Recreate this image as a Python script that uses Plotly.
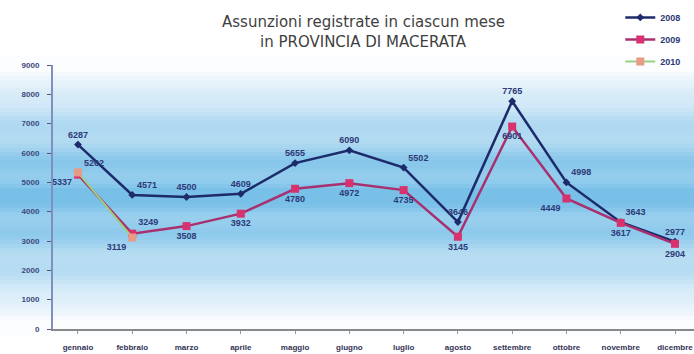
import plotly.graph_objects as go
import math

months = ["gennaio", "febbraio", "marzo", "aprile", "maggio", "giugno",
          "luglio", "agosto", "settembre", "ottobre", "novembre", "dicembre"]
s2008 = [6287, 4571, 4500, 4609, 5655, 6090, 5502, 3646, 7765, 4998, 3643, 2977]
s2009 = [5262, 3249, 3508, 3932, 4780, 4972, 4735, 3145, 6901, 4449, 3617, 2904]
s2010 = [5337, 3119]
yticks = [0, 1000, 2000, 3000, 4000, 5000, 6000, 7000, 8000, 9000]
title_lines = ["Assunzioni registrate in ciascun mese", "in PROVINCIA DI MACERATA"]

pos2008 = ["top center", "top right", "top center", "top center", "top center", "top center",
           "top right", "top center", "top center", "top right", "top right", "top center"]
pos2009 = ["top right", "top right", "bottom center", "bottom center", "bottom center", "bottom center",
           "bottom center", "bottom center", "bottom center", "bottom left", "bottom center", "bottom center"]
pos2010 = ["bottom left", "bottom left"]

navy = "#1d2b6b"
pink = "#d8326e"
pinkline = "#a8306e"
green = "#9ccf82"
labelc = "#2c3a78"
FONT = "Liberation Sans"

fig = go.Figure()

def py2paper(py):
    return (329 - py) / 264.0

def band_color(py):
    c = max(0.0, 1 - abs(py - 195) / 125.0)
    c = c ** 0.8
    w = (252, 253, 255)
    b = (120, 192, 232)
    streak = 0.12 * math.sin(py / 6.0) if 90 < py < 300 else 0
    k = min(1, max(0, c + streak * c))
    return "rgb(%d,%d,%d)" % tuple(int(w[i] + (b[i] - w[i]) * k) for i in range(3))

shapes = []
step = 4
for py in range(56, 336, step):
    shapes.append(dict(type="rect", xref="paper", yref="paper",
                       x0=-0.09, x1=1.01, y0=py2paper(py + step), y1=py2paper(py),
                       fillcolor=band_color(py + step / 2), line=dict(width=0), layer="below"))

lblfont = dict(size=9, color=labelc, family=FONT, weight="bold")

fig.add_trace(go.Scatter(x=months, y=s2008, name="2008", mode="lines+markers+text",
                         line=dict(color=navy, width=2.5),
                         marker=dict(symbol="diamond", size=6, color=navy),
                         text=[str(v) for v in s2008], textposition=pos2008,
                         textfont=lblfont, cliponaxis=False))
fig.add_trace(go.Scatter(x=months, y=s2009, name="2009", mode="lines+markers+text",
                         line=dict(color=pinkline, width=2.5),
                         marker=dict(symbol="square", size=8, color=pink),
                         text=[str(v) for v in s2009], textposition=pos2009,
                         textfont=lblfont, cliponaxis=False))
fig.add_trace(go.Scatter(x=months[:len(s2010)], y=s2010, name="2010", mode="lines+markers+text",
                         line=dict(color=green, width=2),
                         marker=dict(symbol="square", size=8, color="#e89a84"),
                         text=[str(v) for v in s2010], textposition=pos2010,
                         textfont=lblfont, cliponaxis=False))

annotations = []
for i, t in enumerate(title_lines):
    annotations.append(dict(text=t, xref="paper", yref="paper", x=0.484,
                            y=py2paper(22 + 20 * i), xanchor="center", yanchor="middle",
                            showarrow=False,
                            font=dict(size=15, color="#3f3f3f", family="DejaVu Sans")))

fig.update_layout(
    width=694, height=354,
    margin=dict(l=53, r=0, t=65, b=25),
    paper_bgcolor="white", plot_bgcolor="rgba(0,0,0,0)",
    shapes=shapes,
    annotations=annotations,
    font=dict(family=FONT, size=9, color=labelc),
    showlegend=True,
    legend=dict(x=0.885, y=1.235, xanchor="left", yanchor="top",
                bgcolor="rgba(0,0,0,0)", font=dict(size=9, color=labelc, weight="bold"),
                traceorder="grouped", tracegroupgap=3, itemwidth=30),
    xaxis=dict(range=[-0.46, 11.35], showgrid=False, showline=True, linecolor="#888888",
               linewidth=2, ticks="outside", ticklen=3, tickcolor="#999999",
               ticklabelstandoff=6,
               tickfont=dict(size=8, color="#333355", weight="bold")),
    yaxis=dict(range=[0, 9000], tickvals=yticks, showgrid=False, showline=True,
               linecolor="#7f8fc0", linewidth=2, ticks="outside", ticklen=4,
               tickcolor="#555577", zeroline=False, ticklabelstandoff=6,
               tickfont=dict(size=8, color="#3c4a80", weight="bold")),
)
for i, tr in enumerate(fig.data):
    tr.legendgroup = "g%d" % i

fig.write_html("out.html")
